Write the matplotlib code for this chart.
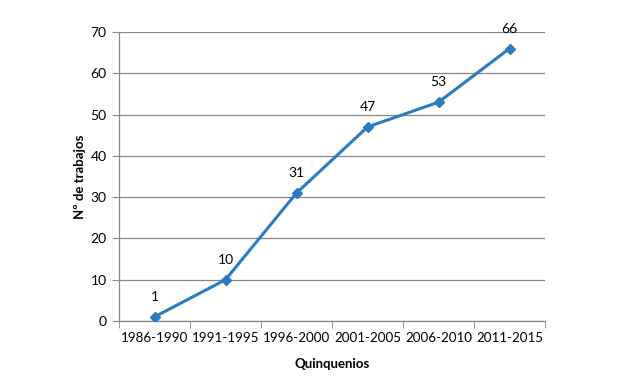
import matplotlib.pyplot as plt

plt.rcParams['font.family'] = ['Lato', 'DejaVu Sans']

quinquenios = ['1986-1990', '1991-1995', '1996-2000', '2001-2005', '2006-2010', '2011-2015']
trabajos = [1, 10, 31, 47, 53, 66]

fig = plt.figure(figsize=(6.44, 3.88), dpi=100)
ax = fig.add_axes([0.1848, 0.1727, 0.6615, 0.7448])

x = list(range(len(quinquenios)))
ax.plot(x, trabajos, color='#2A7BC1', linewidth=2.2, marker='D', markersize=5.5, zorder=3)

for xi, v in zip(x, trabajos):
    ax.annotate(str(v), (xi, v), xytext=(0, 10), textcoords='offset points',
                ha='center', va='bottom', fontsize=10, color='#000000')

ax.set_xlim(-0.5, len(quinquenios) - 0.5)
ax.set_ylim(0, 70)
ax.set_yticks(range(0, 71, 10))
ax.set_xticks(x)
ax.set_xticklabels(quinquenios)
ax.set_xticks([i - 0.5 for i in range(len(quinquenios) + 1)], minor=True)
ax.tick_params(axis='x', which='major', length=0, pad=8, labelsize=9.6)
ax.tick_params(axis='x', which='minor', length=5, color='#868686')
ax.tick_params(axis='y', length=5, color='#868686', labelsize=10, pad=4)

ax.grid(axis='y', color='#868686', linewidth=0.9)
ax.set_axisbelow(True)
for s in ['top', 'right']:
    ax.spines[s].set_visible(False)
for s in ['left', 'bottom']:
    ax.spines[s].set_color('#868686')
    ax.spines[s].set_linewidth(0.9)

ax.set_xlabel('Quinquenios', fontsize=9.5, fontweight='bold', labelpad=10)
ax.set_ylabel('Nº de trabajos', fontsize=9.5, fontweight='bold', labelpad=3)

fig.savefig('out.png', dpi=100)
